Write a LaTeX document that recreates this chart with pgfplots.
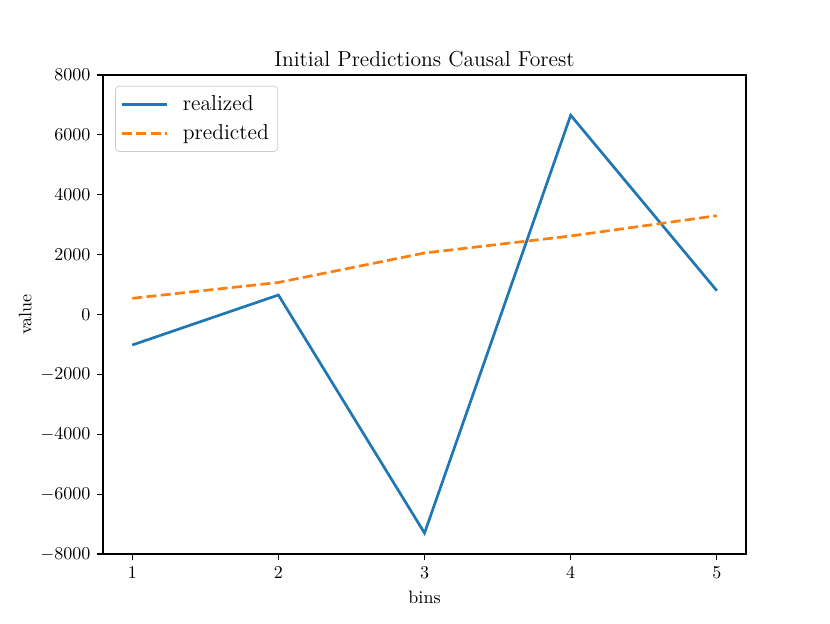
\documentclass[border=0pt]{standalone}
\usepackage{pgfplots}
\pgfplotsset{compat=1.18}
\definecolor{tabblue}{HTML}{1F77B4}
\definecolor{taborange}{HTML}{FF7F0E}
\begin{document}
\begin{tikzpicture}
\begin{axis}[
  at={(0,0)}, anchor=south west,
  scale only axis,
  width=357pt, height=266pt,
  xmin=0.8, xmax=5.2,
  ymin=-8000, ymax=8000,
  xtick={1,2,3,4,5},
  ytick={-8000,-6000,-4000,-2000,0,2000,4000,6000,8000},
  /pgf/number format/1000 sep={},
  tick align=outside,
  tick pos=left,
  major tick length=3.5pt,
  tick style={black, line width=0.7pt},
  axis line style={line width=0.7pt},
  title={Initial Predictions Causal Forest},
  title style={font=\large, yshift=-5pt},
  xlabel={bins}, ylabel={value},
  xlabel style={yshift=0pt},
  ylabel style={yshift=-2pt},
  legend style={at={(0.0187,0.977)}, anchor=north west,
    draw=black!20, rounded corners=2pt, font=\large,
    inner xsep=3pt, inner ysep=3pt, row sep=2.5pt},
  legend cell align=left,
  legend image code/.code={\draw[#1] (0pt,0pt) -- (25pt,0pt); \path (0pt,0pt) (31pt,0pt);},
]
\addplot[tabblue, line width=1.5pt] coordinates {
  (1,-1019) (2,651) (3,-7299) (4,6654) (5,795)};
\addlegendentry{realized}
\addplot[taborange, line width=1.5pt, dash pattern=on 5.55pt off 2.4pt] coordinates {
  (1,541) (2,1070) (3,2054) (4,2622) (5,3300)};
\addlegendentry{predicted}
\end{axis}
\pgfresetboundingbox
\path (-57.2pt,-38.3pt) rectangle (403.6pt,307.6pt);
\end{tikzpicture}
\end{document}
